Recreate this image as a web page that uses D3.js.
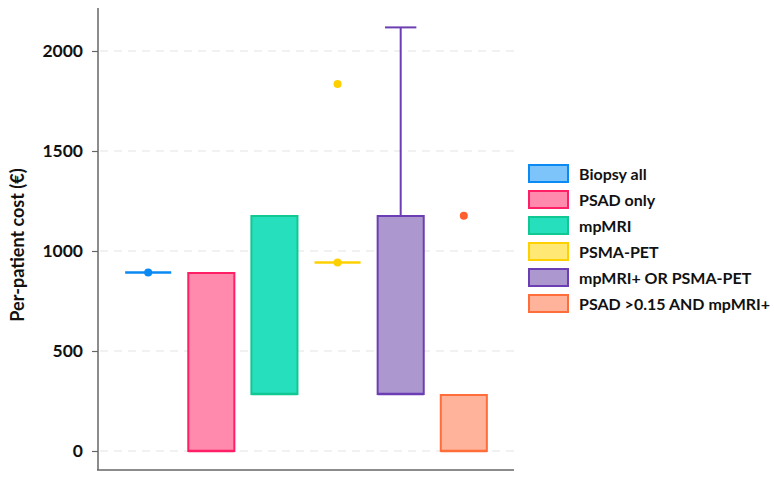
<!DOCTYPE html>
<html>
<head>
<meta charset="utf-8">
<script src="https://cdn.jsdelivr.net/npm/d3@7"></script>
<style>
  body { margin: 0; background: #fff; }
  text { font-family: Lato, "Open Sans", sans-serif; font-weight: bold; fill: #111; }
</style>
</head>
<body>
<div id="chart"></div>
<script>
const width = 774, height = 478;

// data
const categories = ["Biopsy all", "PSAD only", "mpMRI", "PSMA-PET", "mpMRI+ OR PSMA-PET", "PSAD >0.15 AND mpMRI+"];
const q1Values = [893, 0, 285, 942, 285, 0];
const medianValues = [893, 0, 285, 942, 285, 0];
const q3Values = [893, 890, 1175, 942, 1175, 280];
const upperWhisker = [null, null, null, null, 2118, null];
const meanDots = [893, null, null, 942, null, null];
const outliers = [null, null, null, 1835, null, 1176];
const yTicks = [0, 500, 1000, 1500, 2000];

const fills = ["#7cc4fa", "#ff8aae", "#26dfbd", "#ffe873", "#ad97cf", "#ffb39a"];
const strokes = ["#0a8af2", "#ff1f66", "#12c892", "#ffd000", "#6b3fb3", "#ff6d3a"];

const svg = d3.select("#chart").append("svg")
    .attr("width", width)
    .attr("height", height);

const x = d3.scaleBand()
    .domain(categories)
    .range([98, 514])
    .paddingInner(0.27)
    .paddingOuter(0.43);

const y = d3.scaleLinear()
    .domain([-95, 2215])
    .range([470, 8]);

// gridlines
svg.append("g")
    .selectAll("line")
    .data(yTicks)
    .enter()
    .append("line")
    .attr("x1", 100)
    .attr("x2", 514)
    .attr("y1", d => y(d))
    .attr("y2", d => y(d))
    .attr("stroke", "#e4e4e4")
    .attr("stroke-width", 1.2)
    .attr("stroke-dasharray", "8,6");

// y axis
let yAxis = svg.append("g")
    .attr("transform", "translate(98,0)")
    .call(d3.axisLeft(y).tickValues(yTicks).tickSize(6).tickPadding(9).tickFormat(d3.format("d")));
yAxis.select(".domain").attr("stroke", "#666").attr("stroke-width", 1.5).attr("d", "M0,8V470");
yAxis.selectAll(".tick line").attr("stroke", "#666").attr("stroke-width", 1.2);
yAxis.selectAll(".tick text")
    .style("font-family", "Lato, sans-serif")
    .style("font-weight", "bold")
    .style("font-size", "17.5px")
    .attr("fill", "#111");

// x axis line
svg.append("line")
    .attr("x1", 97)
    .attr("x2", 514)
    .attr("y1", 470)
    .attr("y2", 470)
    .attr("stroke", "#666")
    .attr("stroke-width", 1.5);

svg.append("text")
    .attr("transform", "translate(24,245) rotate(-90)")
    .attr("text-anchor", "middle")
    .style("font-size", "18px")
    .text("Per-patient cost (€)");

const bw = x.bandwidth();

// whiskers
categories.forEach((c, i) => {
    if (upperWhisker[i] == null) return;
    let cx = x(c) + bw / 2;
    svg.append("line")
        .attr("x1", cx).attr("x2", cx)
        .attr("y1", y(q3Values[i])).attr("y2", y(upperWhisker[i]))
        .attr("stroke", strokes[i]).attr("stroke-width", 2);
    svg.append("line")
        .attr("x1", cx - bw * 0.34).attr("x2", cx + bw * 0.34)
        .attr("y1", y(upperWhisker[i])).attr("y2", y(upperWhisker[i]))
        .attr("stroke", strokes[i]).attr("stroke-width", 2);
});

// boxes
svg.append("g")
    .selectAll("rect")
    .data(categories.filter((c, i) => q3Values[i] > q1Values[i]))
    .enter()
    .append("rect")
    .attr("x", c => x(c))
    .attr("width", bw)
    .attr("y", c => y(q3Values[categories.indexOf(c)]))
    .attr("height", c => { let i = categories.indexOf(c); return y(q1Values[i]) - y(q3Values[i]); })
    .attr("fill", c => fills[categories.indexOf(c)])
    .attr("stroke", c => strokes[categories.indexOf(c)])
    .attr("stroke-width", 2);

// medians
svg.append("g")
    .selectAll("line")
    .data(categories)
    .enter()
    .append("line")
    .attr("x1", c => x(c))
    .attr("x2", c => x(c) + bw)
    .attr("y1", (c, i) => y(medianValues[i]))
    .attr("y2", (c, i) => y(medianValues[i]))
    .attr("stroke", (c, i) => strokes[i])
    .attr("stroke-width", 2.5);

// mean dots
svg.append("g")
    .selectAll("circle")
    .data(categories.filter((c, i) => meanDots[i] != null))
    .enter()
    .append("circle")
    .attr("cx", c => x(c) + bw / 2)
    .attr("cy", c => y(meanDots[categories.indexOf(c)]))
    .attr("r", 4)
    .attr("fill", c => strokes[categories.indexOf(c)]);

// outliers
svg.append("g")
    .selectAll("circle")
    .data(categories.filter((c, i) => outliers[i] != null))
    .enter()
    .append("circle")
    .attr("cx", c => x(c) + bw / 2)
    .attr("cy", c => y(outliers[categories.indexOf(c)]))
    .attr("r", 4)
    .attr("fill", c => c === "PSAD >0.15 AND mpMRI+" ? "#ff5e2e" : strokes[categories.indexOf(c)]);

// legend
let legend = svg.append("g")
    .selectAll("g")
    .data(categories)
    .enter()
    .append("g")
    .attr("transform", (d, i) => `translate(529,${165 + i * 26})`);

legend.append("rect")
    .attr("width", 39)
    .attr("height", 17)
    .attr("fill", (d, i) => fills[i])
    .attr("stroke", (d, i) => strokes[i])
    .attr("stroke-width", 2);

legend.append("text")
    .attr("x", 50)
    .attr("y", 9)
    .attr("dy", "0.36em")
    .style("font-size", "16px")
    .text(d => d);
</script>
</body>
</html>
